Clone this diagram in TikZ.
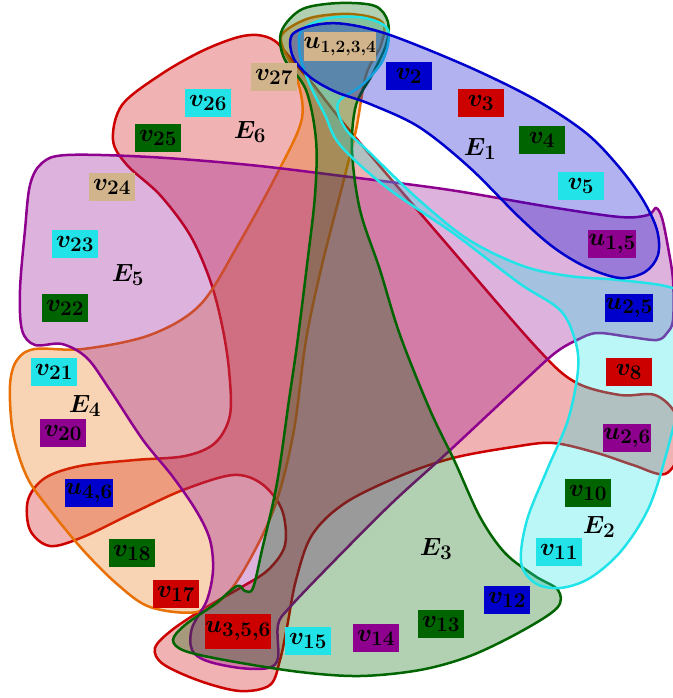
\documentclass[tikz,border=0pt]{standalone}
\usepackage{bm}
\definecolor{hblue}{RGB}{0,0,205}
\definecolor{hred}{RGB}{205,0,0}
\definecolor{hgreen}{RGB}{0,100,0}
\definecolor{hcyan}{RGB}{34,228,232}
\definecolor{hpurple}{RGB}{142,0,142}
\definecolor{horange}{RGB}{232,112,5}
\definecolor{htan}{RGB}{210,180,140}
\newcommand{\subl}[1]{\mbox{\fontsize{21}{22}\selectfont$\bm{#1}$}}
\newcommand{\vlab}[1]{$\bm{v}_{\subl{#1}}$}
\newcommand{\ulab}[1]{$\bm{u}_{\subl{#1}}$}
\newcommand{\elab}[1]{$\bm{E}_{\subl{#1}}$}
\begin{document}
\begin{tikzpicture}[x=1pt, y=-1pt,
  every node/.style={font=\fontsize{30}{32}\selectfont},
  hedge/.style={line width=2.5pt, draw=#1, fill=#1, fill opacity=0.3},
  vtx/.style={fill=#1, minimum width=46pt, minimum height=28pt, inner sep=0pt},
  ename/.style={font=\fontsize{31}{33}\selectfont}
]
\useasboundingbox (0,0) rectangle (672,698);
% hyperedges, back to front:
\filldraw [hedge=hred] plot [smooth cycle, tension=0.55] coordinates {
  (235,38) (257,35) (275,41) (292,60) (312,83) (333,110) (355,137) (445,242)
  (536,347) (575,382) (620,395) (655,395) (676,415) (680,450) (665,474)
  (633,465) (597,453) (553,443) (513,447) (453,458) (400,476) (345,503)
  (312,535) (296,580) (287,627) (280,660) (270,685) (240,691) (200,681)
  (163,664) (155,648) (172,630) (205,608) (240,588) (268,570) (285,545)
  (282,510) (262,484) (233,475) (183,490) (133,513) (83,537) (50,546)
  (30,530) (28,500) (45,478) (80,466) (135,460) (185,456) (215,443)
  (230,415) (229,370) (222,325) (210,280) (190,235) (160,195) (127,165)
  (113,140) (122,105) (160,75) (200,52)};
\filldraw [hedge=horange] plot [smooth cycle, tension=0.55] coordinates {
  (283,33) (310,18) (350,14) (382,22) (381,45) (366,75) (356,130) (343,183)
  (322,265) (306,340) (294,430) (277,500) (255,550) (228,593) (197,612)
  (150,607) (117,584) (83,550) (50,510) (27,477) (13,433) (10,385) (17,360)
  (35,349) (83,349) (150,335) (200,305) (238,245) (278,172) (302,118)
  (296,75) (283,48)};
\filldraw [hedge=hpurple] plot [smooth cycle, tension=0.55] coordinates {
  (67,155) (150,157) (250,165) (350,177) (450,190) (550,207) (620,217)
  (648,215) (656,208) (662,218) (668,247) (673,280) (673,320) (667,333)
  (657,340) (630,337) (597,333) (577,340) (555,353) (523,382) (447,453)
  (393,502) (335,560) (290,607) (278,625) (278,658) (268,668) (240,668)
  (207,661) (192,650) (192,628) (207,600) (213,570) (210,540) (197,512)
  (173,477) (143,440) (110,390) (87,358) (62,344) (35,345) (22,330)
  (20,290) (25,230) (30,185) (42,163)};
\filldraw [hedge=hgreen] plot [smooth cycle, tension=0.55] coordinates {
  (287,22) (305,8) (340,3) (375,6) (388,22) (386,45) (372,75) (356,105)
  (352,150) (360,210) (380,270) (400,335) (430,410) (455,462) (480,517)
  (505,553) (535,576) (558,590) (557,608) (520,632) (470,656) (420,670)
  (360,676) (300,672) (230,661) (185,651) (173,640) (185,625) (215,604)
  (237,586) (245,591) (253,588) (262,550) (277,483) (289,400) (297,345)
  (307,265) (315,195) (316,140) (306,90) (285,60) (280,38)};
\filldraw [hedge=hcyan] plot [smooth cycle, tension=0.55] coordinates {
  (302,30) (330,18) (365,18) (388,30) (383,60) (362,85) (338,103) (345,128)
  (369,152) (419,200) (469,240) (523,266) (569,276) (619,280) (669,287)
  (680,300) (680,390) (670,440) (650,505) (622,550) (590,578) (560,588)
  (535,583) (521,562) (527,520) (547,470) (568,420) (578,370) (575,340)
  (560,310) (519,283) (453,233) (386,187) (340,145) (325,115) (310,85)
  (300,55)};
\filldraw [hedge=hblue] plot [smooth cycle, tension=0.55] coordinates {
  (292,35) (315,25) (345,24) (390,35) (469,67) (536,100) (586,133)
  (619,167) (643,200) (657,230) (658,255) (645,272) (620,278) (586,267)
  (553,247) (519,217) (469,167) (419,127) (370,104) (336,92) (310,77)
  (293,57)};
% edge names
\node [ename] (e1) at (480,149) {\elab{1}};
\node [ename] (e2) at (599,527) {\elab{2}};
\node [ename] (e3) at (436,549) {\elab{3}};
\node [ename] (e4) at (85,406) {\elab{4}};
\node [ename] (e5) at (128,275) {\elab{5}};
\node [ename] (e6) at (250,132) {\elab{6}};
% vertices
\node [vtx=htan, minimum width=69pt, minimum height=29pt, font=\fontsize{26}{28}\selectfont] (u1234) at (340,47) {$\bm{u}_{\mbox{\fontsize{19}{20}\selectfont$\bm{1{,}2{,}3{,}4}$}}$};
\node [vtx=hblue] (v2) at (409,76) {\vlab{2}};
\node [vtx=hred] (v3) at (481,103) {\vlab{3}};
\node [vtx=hgreen] (v4) at (542,140) {\vlab{4}};
\node [vtx=hcyan] (v5) at (581,186) {\vlab{5}};
\node [vtx=hpurple] (u15) at (612,244) {\ulab{1{,}5}};
\node [vtx=hblue] (u25) at (629,308) {\ulab{2{,}5}};
\node [vtx=hred] (v8) at (629,372) {\vlab{8}};
\node [vtx=hpurple] (u26) at (627,438) {\ulab{2{,}6}};
\node [vtx=hgreen] (v10) at (588,493) {\vlab{10}};
\node [vtx=hcyan] (v11) at (559,552) {\vlab{11}};
\node [vtx=hblue] (v12) at (507,600) {\vlab{12}};
\node [vtx=hgreen] (v13) at (441,624) {\vlab{13}};
\node [vtx=hpurple] (v14) at (376,638) {\vlab{14}};
\node [vtx=hcyan] (v15) at (308,641) {\vlab{15}};
\node [vtx=hred, minimum width=61pt, minimum height=35pt] (u356) at (238,631) {\ulab{3{,}5{,}6}};
\node [vtx=hred] (v17) at (176,594) {\vlab{17}};
\node [vtx=hgreen] (v18) at (132,553) {\vlab{18}};
\node [vtx=hblue] (u46) at (89,493) {\ulab{4{,}6}};
\node [vtx=hpurple] (v20) at (63,433) {\vlab{20}};
\node [vtx=hcyan] (v21) at (54,372) {\vlab{21}};
\node [vtx=hgreen] (v22) at (65,308) {\vlab{22}};
\node [vtx=hcyan] (v23) at (75,244) {\vlab{23}};
\node [vtx=htan] (v24) at (112,187) {\vlab{24}};
\node [vtx=hgreen] (v25) at (158,138) {\vlab{25}};
\node [vtx=hcyan] (v26) at (208,103) {\vlab{26}};
\node [vtx=htan] (v27) at (274,77) {\vlab{27}};
\end{tikzpicture}
\end{document}
